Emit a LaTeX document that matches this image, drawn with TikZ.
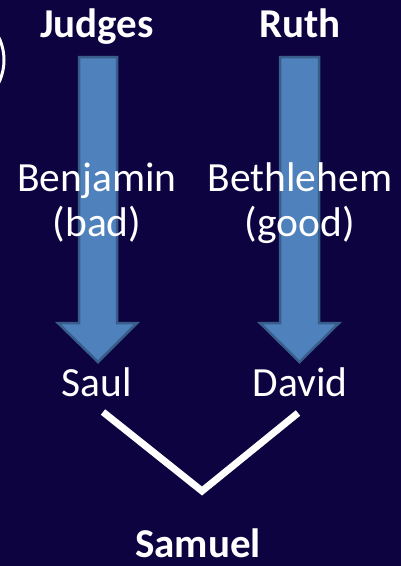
\documentclass[tikz,border=0pt]{standalone}
\usepackage{fontspec}
\setmainfont{Carlito}
\begin{document}
\begin{tikzpicture}[x=1pt,y=-1pt,
  bg/.style={fill=bgnavy},
  lbl/.style={text=white,anchor=base,inner sep=0pt,font=\fontsize{41.5}{46}\selectfont},
  ttl/.style={text=white,anchor=base,inner sep=0pt,font=\fontsize{41}{46}\selectfont\bfseries},
  blockarrow/.style={fill=arrowfill,draw=arrowedge,line width=2.5pt,line join=miter},
  link/.style={draw=white,line width=7pt,line join=miter,line cap=butt}]
\definecolor{bgnavy}{RGB}{12,3,64}
\definecolor{arrowfill}{RGB}{79,129,189}
\definecolor{arrowedge}{RGB}{56,93,138}
\path[bg] (0,0) rectangle (401,566);
\useasboundingbox (0,0) rectangle (401,566);
% partial circle at left edge
\draw[white,line width=3pt] (-48,60) circle[radius=52];
% block arrows
\path[blockarrow] (79,57) -- (117,57) -- (117,323) -- (137,323) -- (98,362) -- (58,323) -- (79,323) -- cycle;
\path[blockarrow] (280,57) -- (319,57) -- (319,323) -- (339,323) -- (299.5,362) -- (260,323) -- (280,323) -- cycle;
% titles
\node[ttl] (judges) at (97,37) {Judges};
\node[ttl] (ruth) at (300,37) {Ruth};
\node[ttl] (samuel) at (198,557) {Samuel};
% labels
\node[lbl] (benj) at (97,191) {Benjamin};
\node[lbl] (bad) at (97,236) {(bad)};
\node[lbl] (beth) at (300,191) {Bethlehem};
\node[lbl] (good) at (300,236) {(good)};
\node[lbl] (saul) at (97,396) {Saul};
\node[lbl] (david) at (300,396) {David};
% V connector
\coordinate (sl) at (103,412);
\coordinate (vb) at (202,491);
\coordinate (dr) at (298,413);
\draw[link] (sl) -- (vb) -- (dr);
\end{tikzpicture}
\end{document}
